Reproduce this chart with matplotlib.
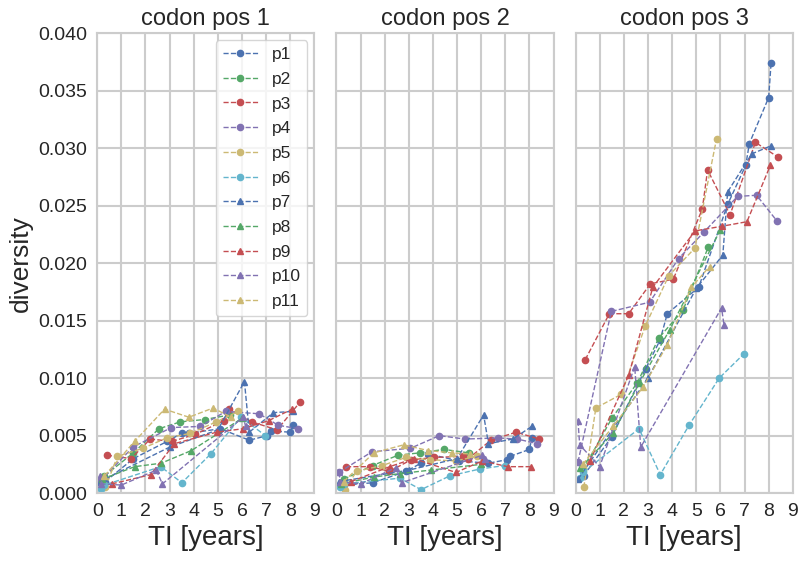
import matplotlib
matplotlib.use('Agg')
import matplotlib.pyplot as plt
import seaborn as sns
from matplotlib.ticker import FormatStrFormatter

sns.set_style('whitegrid')
plt.rcParams['font.family'] = ['Liberation Sans', 'DejaVu Sans']

patients = ['p1', 'p2', 'p3', 'p4', 'p5', 'p6', 'p7', 'p8', 'p9', 'p10', 'p11']
colors = ['#4C72B0', '#55A868', '#C44E52', '#8172B2', '#CCB974', '#64B5CD']
panel_titles = ['codon pos 1', 'codon pos 2', 'codon pos 3']

# sample times (years since infection) per patient
t_p1 = [0.33, 1.5, 2.9, 3.5, 3.8, 5.1, 6.3, 7.05, 7.2, 8.0, 8.1]
t_p2 = [0.3, 1.5, 2.56, 3.45, 4.45, 5.5]
t_p3 = [0.4, 1.4, 2.2, 3.1, 4.05, 5.25, 5.47, 6.4, 7.45, 8.4]
t_p4 = [0.1, 1.48, 3.07, 4.27, 5.32, 6.71, 7.5, 8.33]
t_p5 = [0.34, 0.84, 1.9, 2.88, 3.86, 4.94, 5.84]
t_p6 = [0.17, 0.3, 2.63, 3.51, 4.7, 5.95, 6.97]
t_p7 = [0.1, 3.0, 5.0, 6.1, 6.3, 7.3, 8.1]
t_p8 = [0.2, 1.55, 2.65, 3.9, 6.0]
t_p9 = [0.6, 2.21, 3.2, 4.95, 6.05, 7.1, 8.07]
t_p10 = [0.1, 0.17, 1.0, 2.45, 2.7, 6.05, 6.15]
t_p11 = [0.3, 1.55, 2.79, 3.8, 4.8, 5.55]

# diversity at codon position 1
pos1_p1 = [0.0010, 0.0030, 0.0045, 0.0052, 0.0052, 0.0056, 0.0046, 0.0050, 0.0054, 0.0053, 0.0059]
pos1_p2 = [0.0015, 0.0035, 0.0056, 0.0062, 0.0064, 0.0068]
pos1_p3 = [0.0033, 0.0030, 0.0047, 0.0045, 0.0051, 0.0063, 0.0073, 0.0062, 0.0055, 0.0079]
pos1_p4 = [0.0010, 0.0040, 0.0057, 0.0058, 0.0071, 0.0069, 0.0059, 0.0056]
pos1_p5 = [0.0005, 0.0032, 0.0039, 0.0048, 0.0052, 0.0062, 0.0071]
pos1_p6 = [0.0004, 0.0007, 0.0023, 0.0009, 0.0034, 0.0066, 0.0050]
pos1_p7 = [0.0010, 0.0040, 0.0055, 0.0097, 0.0053, 0.0070, 0.0071]
pos1_p8 = [0.0012, 0.0023, 0.0026, 0.0037, 0.0065]
pos1_p9 = [0.0008, 0.0016, 0.0043, 0.0053, 0.0056, 0.0063, 0.0073]
pos1_p10 = [0.0015, 0.0008, 0.0007, 0.0020, 0.0008, 0.0066, 0.0058]
pos1_p11 = [0.0015, 0.0045, 0.0073, 0.0066, 0.0074, 0.0066]

# diversity at codon position 2
pos2_p1 = [0.0007, 0.0009, 0.0019, 0.0026, 0.0034, 0.0028, 0.0026, 0.0029, 0.0032, 0.0038, 0.0048]
pos2_p2 = [0.0012, 0.0024, 0.0033, 0.0035, 0.0038, 0.0035]
pos2_p3 = [0.0023, 0.0023, 0.0019, 0.0029, 0.0031, 0.0032, 0.0030, 0.0046, 0.0053, 0.0047]
pos2_p4 = [0.0018, 0.0036, 0.0039, 0.0050, 0.0047, 0.0048, 0.0047, 0.0043]
pos2_p5 = [0.0003, 0.0019, 0.0024, 0.0031, 0.0029, 0.0028, 0.0032]
pos2_p6 = [0.0005, 0.0008, 0.0013, 0.0003, 0.0015, 0.0021, 0.0024]
pos2_p7 = [0.0010, 0.0020, 0.0030, 0.0068, 0.0043, 0.0047, 0.0058]
pos2_p8 = [0.0008, 0.0014, 0.0017, 0.0020, 0.0025]
pos2_p9 = [0.0010, 0.0023, 0.0030, 0.0018, 0.0028, 0.0023, 0.0023]
pos2_p10 = [0.0018, 0.0010, 0.0008, 0.0022, 0.0009, 0.0033, 0.0030]
pos2_p11 = [0.0010, 0.0035, 0.0042, 0.0037, 0.0035, 0.0034]

# diversity at codon position 3
pos3_p1 = [0.0015, 0.0049, 0.0108, 0.0133, 0.0156, 0.0179, 0.0251, 0.0285, 0.0304, 0.0344, 0.0374]
pos3_p2 = [0.0020, 0.0065, 0.0096, 0.0135, 0.0159, 0.0214]
pos3_p3 = [0.0116, 0.0156, 0.0156, 0.0182, 0.0186, 0.0247, 0.0281, 0.0242, 0.0305, 0.0292]
pos3_p4 = [0.0027, 0.0158, 0.0166, 0.0204, 0.0227, 0.0258, 0.0259, 0.0237]
pos3_p5 = [0.0005, 0.0074, 0.0086, 0.0145, 0.0189, 0.0213, 0.0308]
pos3_p6 = [0.0013, 0.0018, 0.0056, 0.0016, 0.0059, 0.0100, 0.0121]
pos3_p7 = [0.0012, 0.0100, 0.0178, 0.0207, 0.0262, 0.0295, 0.0302]
pos3_p8 = [0.0022, 0.0052, 0.0096, 0.0142, 0.0229]
pos3_p9 = [0.0028, 0.0103, 0.0179, 0.0228, 0.0232, 0.0236, 0.0285]
pos3_p10 = [0.0063, 0.0042, 0.0023, 0.0110, 0.0040, 0.0161, 0.0146]
pos3_p11 = [0.0025, 0.0058, 0.0092, 0.0129, 0.0179, 0.0197]

times = [t_p1, t_p2, t_p3, t_p4, t_p5, t_p6, t_p7, t_p8, t_p9, t_p10, t_p11]
pos1 = [pos1_p1, pos1_p2, pos1_p3, pos1_p4, pos1_p5, pos1_p6, pos1_p7, pos1_p8, pos1_p9, pos1_p10, pos1_p11]
pos2 = [pos2_p1, pos2_p2, pos2_p3, pos2_p4, pos2_p5, pos2_p6, pos2_p7, pos2_p8, pos2_p9, pos2_p10, pos2_p11]
pos3 = [pos3_p1, pos3_p2, pos3_p3, pos3_p4, pos3_p5, pos3_p6, pos3_p7, pos3_p8, pos3_p9, pos3_p10, pos3_p11]

fig, axs = plt.subplots(1, 3, figsize=(8, 5.61), dpi=100, sharey=True)
fig.subplots_adjust(left=0.1215, right=0.991, bottom=0.121, top=0.941, wspace=0.101)

for ax, title, data in zip(axs, panel_titles, [pos1, pos2, pos3]):
    for i, pname in enumerate(patients):
        marker = 'o' if i < 6 else '^'
        ax.plot(times[i], data[i], ls='--', lw=1, marker=marker, ms=4.5,
                color=colors[i % 6] if i < 6 else colors[i - 6], label=pname)
    ax.set_title(title, fontsize=17)
    ax.set_xlabel('TI [years]', fontsize=20)
    ax.set_xlim(0, 9)
    ax.set_xticks(range(10))
    ax.tick_params(labelsize=14)
    for s in ax.spines.values():
        s.set_color('#cccccc')
        s.set_linewidth(1.5)
    ax.grid(True, color='#cccccc', lw=1.5)

axs[0].set_ylim(0, 0.04)
axs[0].set_yticks([0.0, 0.005, 0.01, 0.015, 0.02, 0.025, 0.03, 0.035, 0.04])
axs[0].yaxis.set_major_formatter(FormatStrFormatter('%.3f'))
axs[0].set_ylabel('diversity', fontsize=19)
axs[0].legend(loc='upper right', fontsize=12.5, frameon=True, numpoints=1,
              handlelength=2.0, labelspacing=0.55, borderaxespad=0.4)

plt.savefig('out.png', dpi=100)
